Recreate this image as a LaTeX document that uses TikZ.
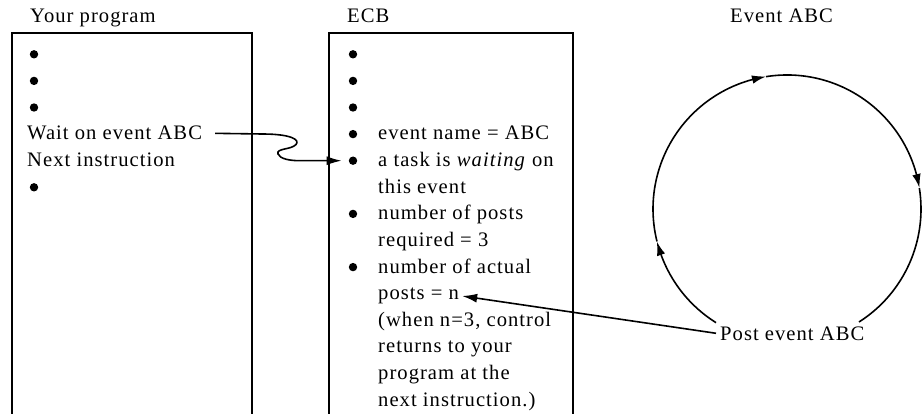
\documentclass[tikz,border=0pt]{standalone}
\usepackage{fontspec}
\setmainfont{Liberation Serif}[LetterSpace=5]
\usetikzlibrary{arrows.meta,bending}
\begin{document}
\begin{tikzpicture}[x=1pt,y=-1pt,
  txt/.style={anchor=base west,inner sep=0pt,font=\fontsize{20.6}{26.6}\selectfont},
  dot/.style={circle,fill=black,inner sep=0pt,minimum size=8.4pt},
  frame/.style={line width=2pt},
  link/.style={line width=1.6pt},
  tip/.style={-{Latex[length=15pt,width=9pt]}},
  ring/.style={line width=1.6pt},
  ringtip/.style={-{Latex[length=14pt,width=8.5pt,bend]}},
]
\useasboundingbox (0,0) rectangle (924,414);

% column frames, open at the bottom
\draw[frame] (12,420) -- (12,33) -- (252,33) -- (252,420);
\draw[frame] (329,420) -- (329,33) -- (573,33) -- (573,420);

% headings
\node[txt] (ttlprog) at (30,23) {Your program};
\node[txt] (ttlecb)  at (347,23) {ECB};
\node[txt] (ttlevt)  at (730,23) {Event ABC};

% program listing
\node[dot] (p1) at (34,54.3) {};
\node[dot] (p2) at (34,80.9) {};
\node[dot] (p3) at (34,107.5) {};
\node[txt] (wait) at (27,140) {Wait on event ABC};
\node[txt] (next) at (27,166.6) {Next instruction};
\node[dot] (p4) at (34,187.3) {};

% event control block
\node[dot] (e1) at (353,54.3) {};
\node[dot] (e2) at (353,80.9) {};
\node[dot] (e3) at (353,107.5) {};
\node[dot] (e4) at (353,134.1) {};
\node[dot] (e5) at (353,160.7) {};
\node[dot] (e6) at (353,213.9) {};
\node[dot] (e7) at (353,267.1) {};
\node[txt] (l1)  at (378,140)   {event name = ABC};
\node[txt] (l2)  at (378,166.6) {a task is \textit{waiting} on};
\node[txt] (l3)  at (378,193.2) {this event};
\node[txt] (l4)  at (378,219.8) {number of posts};
\node[txt] (l5)  at (378,246.4) {required = 3};
\node[txt] (l6)  at (378,273)   {number of actual};
\node[txt] (postsn) at (378,299.6) {posts = n};
\node[txt] (l8)  at (378,326.2) {(when n=3, control};
\node[txt] (l9)  at (378,352.8) {returns to your};
\node[txt] (l10) at (378,379.4) {program at the};
\node[txt] (l11) at (378,406)   {next instruction.)};

% event cycle
\coordinate (ctr) at (787,209);
\node[txt] (post) at (720,340) {Post event ABC};
\draw[ring,ringtip] ([shift={(122:134)}]ctr) arc[start angle=122,end angle=166,radius=134];
\draw[ring,ringtip] ([shift={(166:134)}]ctr) arc[start angle=166,end angle=261,radius=134];
\draw[ring,ringtip] ([shift={(261:134)}]ctr) arc[start angle=261,end angle=351,radius=134];
\draw[ring] ([shift={(351:134)}]ctr) arc[start angle=351,end angle=417.5,radius=134];

% connectors
\draw[link,tip] ([xshift=13pt]wait.east) -- (262,134)
  .. controls (292,134) and (300,140) .. (296,144.5)
  .. controls (291,150) and (276,148) .. (278,154)
  .. controls (280,159) and (290,160.7) .. (300,160.7)
  -- ([xshift=-7pt]e5.west);
\draw[link,tip] ([xshift=-4pt]post.west) -- ([xshift=3pt]postsn.east);
\end{tikzpicture}
\end{document}
